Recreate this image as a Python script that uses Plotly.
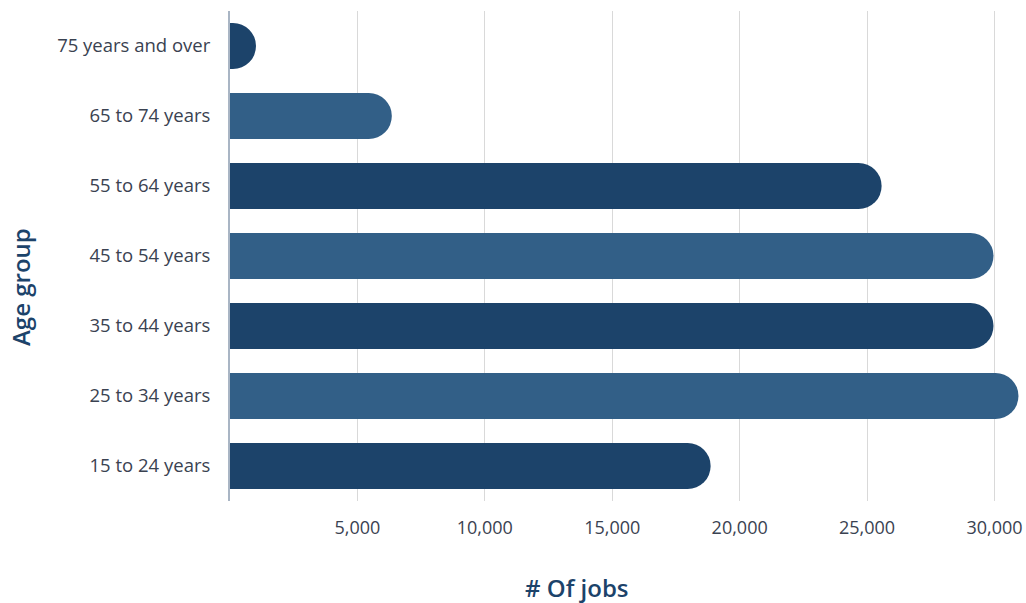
import plotly.graph_objects as go

age_groups = ["15 to 24 years", "25 to 34 years", "35 to 44 years", "45 to 54 years",
              "55 to 64 years", "65 to 74 years", "75 years and over"]
jobs = [18860, 30940, 29960, 29960, 25570, 6350, 1020]
bar_colors = ["#1c436a", "#325f87", "#1c436a", "#325f87", "#1c436a", "#325f87", "#1c436a"]
x_tickvals = [5000, 10000, 15000, 20000, 25000, 30000]
x_ticktext = ["5,000", "10,000", "15,000", "20,000", "25,000", "30,000"]

fig = go.Figure(go.Bar(
    x=jobs, y=age_groups, orientation="h",
    marker=dict(color=bar_colors, line=dict(width=0), cornerradius="50%"),
    hoverinfo="x+y",
))

W, H = 1026, 603
ml, mr, mt, mb = 230, 6, 11, 102
FONT = "Open Sans, Noto Sans, sans-serif"
TXT = "#3a4251"

fig.update_layout(
    width=W, height=H,
    margin=dict(l=ml, r=mr, t=mt, b=mb, autoexpand=False),
    paper_bgcolor="white", plot_bgcolor="white",
    bargap=0.34,
    showlegend=False,
    font=dict(family=FONT, color=TXT),
    xaxis=dict(
        range=[0, 31000], tickvals=x_tickvals, ticktext=x_ticktext,
        showgrid=True, gridcolor="#d9d9d9", gridwidth=1,
        zeroline=False, showline=False, automargin=False,
        ticks="outside", ticklen=10, tickcolor="rgba(0,0,0,0)",
        tickfont=dict(size=18, color=TXT, weight=400),
        fixedrange=True,
    ),
    yaxis=dict(
        showgrid=False, zeroline=False, automargin=False,
        showline=True, linecolor="#a9b5c4", linewidth=2,
        ticks="outside", ticklen=14, tickcolor="rgba(0,0,0,0)",
        tickfont=dict(size=18.5, color=TXT, weight=400),
        fixedrange=True,
    ),
    annotations=[
        dict(text="# Of jobs", xref="paper", yref="paper",
             x=(577 - ml) / (W - ml - mr), y=-(587 - (H - mb)) / (H - mt - mb),
             showarrow=False, xanchor="center", yanchor="middle",
             font=dict(size=24, color="#1c436a", family=FONT, weight=600)),
        dict(text="Age group", xref="paper", yref="paper",
             x=-(ml - 20) / (W - ml - mr), y=1 - (287 - mt) / (H - mt - mb),
             showarrow=False, xanchor="center", yanchor="middle", textangle=-90,
             font=dict(size=24, color="#1c436a", family=FONT, weight=600)),
    ],
)

fig.write_html("out.html", config={"displayModeBar": False},
               post_script="document.body.style.margin='0px';")
